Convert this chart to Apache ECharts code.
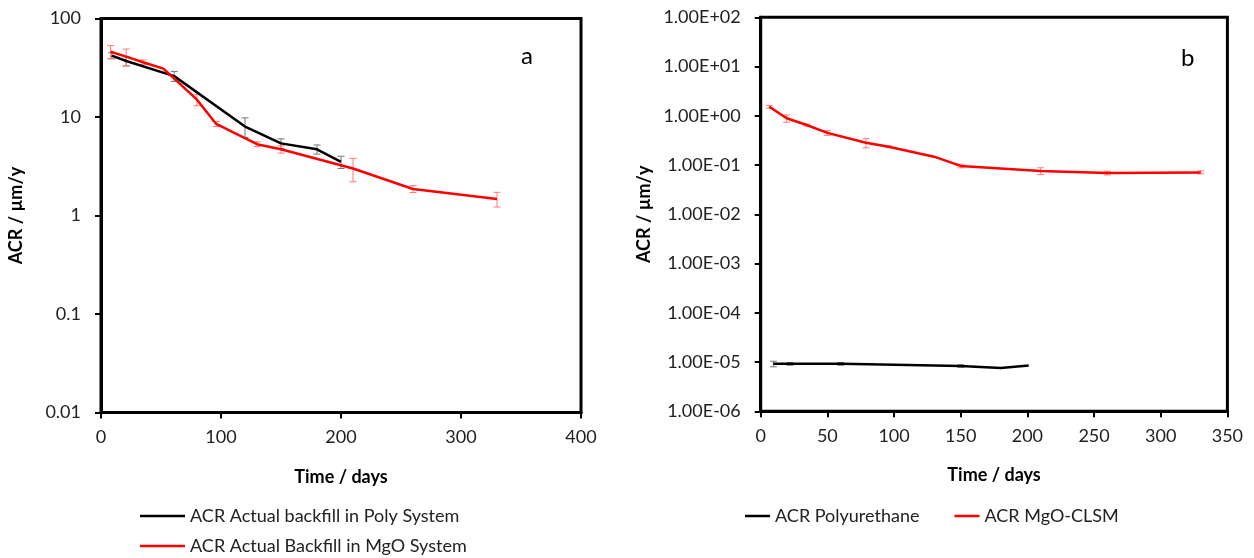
<!DOCTYPE html>
<html>
<head>
<meta charset="utf-8">
<script src="https://cdn.jsdelivr.net/npm/echarts@6/dist/echarts.min.js"></script>
<style>
  html, body { margin: 0; padding: 0; background: #fff; }
  #chart { width: 1254px; height: 558px; }
</style>
</head>
<body>
<div id="chart"></div>
<script>
// panel a
const polyDays = [9, 21, 61, 120, 150, 180, 200]
const polyAcr = [42, 37, 26, 8, 5.4, 4.7, 3.5]
const polyErr = [3, 4, 3, 1.8, 0.6, 0.5, 0.5]
const mgoDays = [8, 21, 35, 52, 80, 96, 130, 150, 210, 260, 330]
const mgoAcr = [46, 41, 36, 31, 15, 8.5, 5.3, 4.7, 3.0, 1.86, 1.47]
const mgoErr = [7, 8, 2, 0, 2, 0.5, 0.3, 0.4, 0.8, 0.15, 0.25]

// panel b
const puDays = [9.5, 22, 60, 150, 180, 201]
const puAcr = [9.2e-6, 9.2e-6, 9.2e-6, 8.3e-6, 7.6e-6, 8.5e-6]
const puErr = [1.2e-6, 0.6e-6, 0.6e-6, 0.5e-6, 0, 0]
const clsmDays = [6.5, 19.5, 34.5, 50, 79, 96, 130, 150, 210, 260, 330]
const clsmAcr = [1.53, 0.89, 0.65, 0.45, 0.284, 0.236, 0.148, 0.096, 0.076, 0.069, 0.071]
const clsmErr = [0.1, 0.15, 0.03, 0.05, 0.06, 0.01, 0, 0.008, 0.012, 0.006, 0.005]

const FONT = 'Lato, "Open Sans", sans-serif'

function pairs(xs, ys) {
  return xs.map((x, i) => [x, ys[i]])
}
function errRows(xs, ys, es) {
  const out = []
  xs.forEach((x, i) => {
    if (es[i] > 0) out.push([x, ys[i] - es[i], ys[i] + es[i]])
  })
  return out
}
function errSeries(rows, color, axis) {
  return {
    type: 'custom',
    xAxisIndex: axis,
    yAxisIndex: axis,
    silent: true,
    z: 1,
    data: rows,
    renderItem(params, api) {
      const lo = api.coord([api.value(0), api.value(1)])
      const hi = api.coord([api.value(0), api.value(2)])
      const w = 3.5
      const st = { stroke: color, lineWidth: 1 }
      return {
        type: 'group',
        children: [
          { type: 'line', shape: { x1: lo[0], y1: lo[1], x2: hi[0], y2: hi[1] }, style: st },
          { type: 'line', shape: { x1: lo[0] - w, y1: lo[1], x2: lo[0] + w, y2: lo[1] }, style: st },
          { type: 'line', shape: { x1: hi[0] - w, y1: hi[1], x2: hi[0] + w, y2: hi[1] }, style: st }
        ]
      }
    }
  }
}
function lineSeries(name, data, color, axis) {
  return {
    name, type: 'line', data, xAxisIndex: axis, yAxisIndex: axis,
    showSymbol: false, z: 3,
    lineStyle: { color, width: 2.5 }, itemStyle: { color }
  }
}
function sci(v) {
  const e = Math.round(Math.log10(v))
  const s = e < 0 ? '-' : '+'
  return '1.00E' + s + String(Math.abs(e)).padStart(2, '0')
}
function legendAt(left, top, width, names, gap) {
  return {
    orient: 'horizontal', left, top, itemGap: gap || 10,
    itemWidth: width, itemHeight: 2.5, icon: 'rect',
    textStyle: { fontFamily: FONT, fontSize: 18, color: '#222' },
    data: names
  }
}

const axisBase = {
  axisLine: { show: true, onZero: false, lineStyle: { color: '#000', width: 3 } },
  axisTick: { show: true, inside: false, length: 6, lineStyle: { color: '#000', width: 2 } },
  splitLine: { show: false },
  nameTextStyle: { fontFamily: FONT, fontWeight: 'bold', fontSize: 18, color: '#000' }
}
const labelBase = { fontFamily: FONT, fontSize: 18, color: '#222' }

const chart = echarts.init(document.getElementById('chart'))
chart.setOption({
  animation: false,
  grid: [
    { left: 101, top: 18.5, width: 480, height: 394, show: true, borderColor: '#000', borderWidth: 3 },
    { left: 760.7, top: 17.3, width: 466.7, height: 394, show: true, borderColor: '#000', borderWidth: 3 }
  ],
  xAxis: [
    Object.assign({}, axisBase, {
      gridIndex: 0, type: 'value', min: 0, max: 400, interval: 100,
      name: 'Time / days', nameLocation: 'middle', nameGap: 56,
      axisLabel: Object.assign({ margin: 16 }, labelBase)
    }),
    Object.assign({}, axisBase, {
      gridIndex: 1, type: 'value', min: 0, max: 350, interval: 50,
      name: 'Time / days', nameLocation: 'middle', nameGap: 55,
      axisLabel: Object.assign({ margin: 16 }, labelBase)
    })
  ],
  yAxis: [
    Object.assign({}, axisBase, {
      gridIndex: 0, type: 'log', logBase: 10, min: 0.01, max: 100,
      name: 'ACR / µm/y', nameLocation: 'middle', nameGap: 76, nameRotate: 90,
      axisLabel: Object.assign({ margin: 20, formatter: v => String(+v.toPrecision(3)) }, labelBase)
    }),
    Object.assign({}, axisBase, {
      gridIndex: 1, type: 'log', logBase: 10, min: 1e-6, max: 100,
      name: 'ACR / µm/y', nameLocation: 'middle', nameGap: 108, nameRotate: 90,
      axisLabel: Object.assign({ margin: 20, formatter: sci }, labelBase)
    })
  ],
  legend: [
    legendAt(135, 502, 45, ['ACR Actual backfill in Poly System']),
    legendAt(135, 532, 45, ['ACR Actual Backfill in MgO System']),
    legendAt(740, 502, 25, ['ACR Polyurethane', 'ACR MgO-CLSM'], 35)
  ],
  graphic: [
    { type: 'text', left: 521, top: 44, style: { text: 'a', font: '24px ' + FONT, fill: '#000' } },
    { type: 'text', left: 1181, top: 46, style: { text: 'b', font: '24px ' + FONT, fill: '#000' } }
  ],
  series: [
    errSeries(errRows(polyDays, polyAcr, polyErr), '#777', 0),
    errSeries(errRows(mgoDays, mgoAcr, mgoErr), '#ff7a7a', 0),
    lineSeries('ACR Actual backfill in Poly System', pairs(polyDays, polyAcr), '#000', 0),
    lineSeries('ACR Actual Backfill in MgO System', pairs(mgoDays, mgoAcr), '#ff0000', 0),
    errSeries(errRows(puDays, puAcr, puErr), '#777', 1),
    errSeries(errRows(clsmDays, clsmAcr, clsmErr), '#ff7a7a', 1),
    lineSeries('ACR Polyurethane', pairs(puDays, puAcr), '#000', 1),
    lineSeries('ACR MgO-CLSM', pairs(clsmDays, clsmAcr), '#ff0000', 1)
  ]
})
</script>
</body>
</html>
